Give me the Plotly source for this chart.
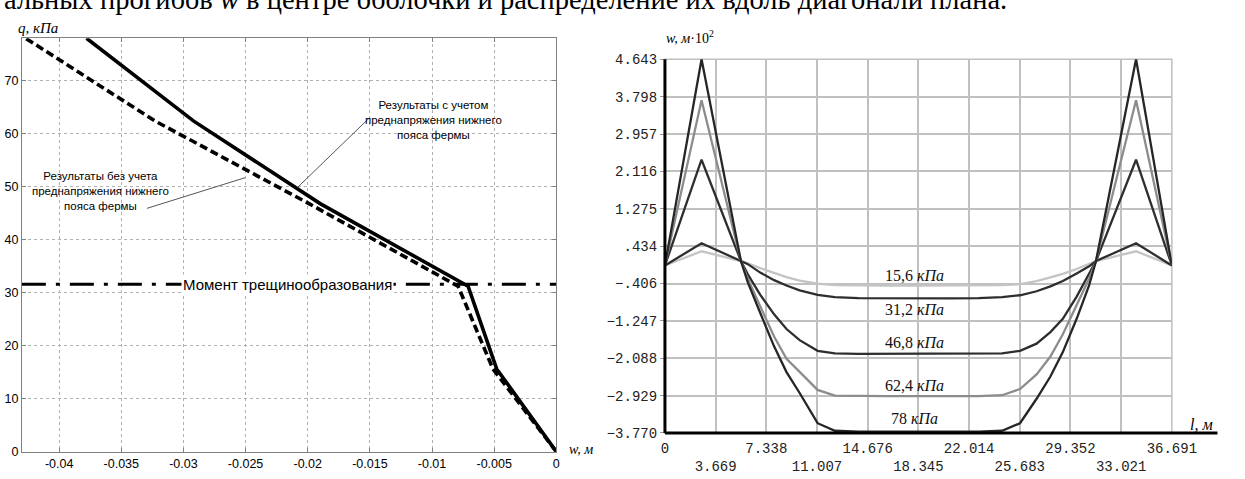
import plotly.graph_objects as go

# ---------------- data: left chart (q vs w) ----------------
q_steps = [0, 15.6, 31.2, 46.8, 62.4, 78]
w_with_prestress = [0, -0.0048, -0.0071, -0.0190, -0.0292, -0.0378]
w_without_prestress = [0, -0.0051, -0.0079, -0.0199, -0.0323, -0.0427]
crack_moment_q = 31.6
left_xticks = [-0.04, -0.035, -0.03, -0.025, -0.02, -0.015, -0.01, -0.005, 0]
left_xticktext = ["-0.04", "-0.035", "-0.03", "-0.025", "-0.02", "-0.015", "-0.01", "-0.005", "0"]
left_yticks = [0, 10, 20, 30, 40, 50, 60, 70]

# ---------------- data: right chart (w along diagonal) ----------------
l_pos = [0, 2.65, 5.5, 6.0, 6.9, 7.9, 8.8, 9.75, 11.05, 12.3, 14.0, 16.0, 18.345,
         20.7, 22.7, 24.4, 25.7, 26.9, 27.9, 28.8, 29.8, 30.7, 31.2, 34.1, 36.691]
w_156 = [0, 0.32, 0.10, 0.05, -0.06, -0.17, -0.26, -0.34, -0.41, -0.44, -0.45, -0.455, -0.455,
         -0.455, -0.45, -0.44, -0.42, -0.35, -0.27, -0.19, -0.08, 0.04, 0.10, 0.32, 0]
w_312 = [0, 0.50, 0.10, 0.03, -0.16, -0.33, -0.45, -0.56, -0.66, -0.71, -0.735, -0.74, -0.74,
         -0.74, -0.735, -0.71, -0.67, -0.58, -0.47, -0.35, -0.18, -0.02, 0.10, 0.50, 0]
w_468 = [0, 2.38, 0.10, -0.20, -0.66, -1.10, -1.43, -1.68, -1.92, -1.98, -1.99, -1.99, -1.99,
         -1.99, -1.99, -1.98, -1.92, -1.76, -1.50, -1.20, -0.70, -0.20, 0.10, 2.38, 0]
w_624 = [0, 3.72, 0.10, -0.30, -0.92, -1.60, -2.10, -2.40, -2.80, -2.93, -2.94, -2.94, -2.94,
         -2.94, -2.94, -2.92, -2.78, -2.45, -2.05, -1.55, -0.90, -0.30, 0.10, 3.72, 0]
w_78 = [0, 4.643, 0.10, -0.38, -1.07, -1.82, -2.40, -2.87, -3.55, -3.72, -3.74, -3.74, -3.74,
        -3.74, -3.74, -3.72, -3.55, -3.00, -2.50, -1.95, -1.20, -0.45, 0.10, 4.643, 0]
series_names = ["15,6 кПа", "31,2 кПа", "46,8 кПа", "62,4 кПа", "78 кПа"]
series_values = [w_156, w_312, w_468, w_624, w_78]
series_colors = ["#c4c4c4", "#2e2e2e", "#2e2e2e", "#8c8c8c", "#262626"]
label_y = [-0.22, -1.0, -1.73, -2.70, -3.45]
label_x = 18.1

right_xticks = [0, 3.669, 7.338, 11.007, 14.676, 18.345, 22.014, 25.683, 29.352, 33.021, 36.691]
right_xticktext = ["0", "<br>3.669", "7.338", "<br>11.007", "14.676", "<br>18.345",
                   "22.014", "<br>25.683", "29.352", "<br>33.021", "36.691"]
right_yticks = [-3.770, -2.929, -2.088, -1.247, -0.406, 0.434, 1.275, 2.116, 2.957, 3.798, 4.643]
right_yticktext = ["\u22123.770", "\u22122.929", "\u22122.088", "\u22121.247", "\u2212.406",
                   ".434", "1.275", "2.116", "2.957", "3.798", "4.643"]

W, H = 1245, 479
def px_x(p):
    return p / W
def px_y(p):
    return 1 - p / H

fig = go.Figure()

# left chart traces
fig.add_trace(go.Scatter(x=w_without_prestress, y=q_steps, mode="lines",
                         line=dict(color="black", width=3.6, dash="8px,4px"),
                         xaxis="x", yaxis="y", showlegend=False))
fig.add_trace(go.Scatter(x=w_with_prestress, y=q_steps, mode="lines",
                         line=dict(color="black", width=3.6),
                         xaxis="x", yaxis="y", showlegend=False))
fig.add_trace(go.Scatter(x=[-0.043, 0], y=[crack_moment_q, crack_moment_q], mode="lines",
                         line=dict(color="black", width=3, dash="24px,10px,4px,10px"),
                         xaxis="x", yaxis="y", showlegend=False))

# right chart traces
for vals, col in zip(series_values, series_colors):
    fig.add_trace(go.Scatter(x=l_pos, y=vals, mode="lines",
                             line=dict(color=col, width=2.3),
                             xaxis="x2", yaxis="y2", showlegend=False))

grid_dot = "#b0b0b0"
fig.update_layout(
    width=W, height=H, autosize=False,
    margin=dict(l=0, r=0, t=0, b=0),
    paper_bgcolor="white", plot_bgcolor="white",
    font=dict(family="Liberation Sans", size=12, color="black"),
    xaxis=dict(domain=[px_x(18.3), px_x(565.5)], range=[-0.043, 0],
               tickvals=left_xticks, ticktext=left_xticktext, tickangle=0,
               showgrid=True, gridcolor=grid_dot, griddash="dot", gridwidth=1,
               showline=True, linecolor="#808080", linewidth=1, mirror="allticks",
               ticks="inside", ticklen=4, tickcolor="#808080",
               zeroline=False, anchor="y", tickfont=dict(size=12.5)),
    yaxis=dict(domain=[px_y(460), px_y(32.3)], range=[0, 78],
               tickvals=left_yticks,
               showgrid=True, gridcolor=grid_dot, griddash="dot", gridwidth=1,
               showline=True, linecolor="#808080", linewidth=1, mirror="allticks",
               ticks="inside", ticklen=4, tickcolor="#808080",
               zeroline=False, anchor="x", tickfont=dict(size=12.5)),
    xaxis2=dict(domain=[px_x(676.7), px_x(1195.7)], range=[0, 36.691],
                tickvals=right_xticks, ticktext=right_xticktext, tickangle=0,
                ticklabelstandoff=5,
                showgrid=True, gridcolor="#c0c0c0", gridwidth=1.5,
                showline=False, zeroline=False, ticks="", anchor="y2",
                tickfont=dict(family="Liberation Mono", size=14, color="#222")),
    yaxis2=dict(domain=[px_y(440.7), px_y(54)], range=[-3.770, 4.643],
                tickvals=right_yticks, ticktext=right_yticktext,
                showgrid=True, gridcolor="#c0c0c0", gridwidth=1.5,
                showline=False, zeroline=False, ticks="outside", ticklen=4,
                tickcolor="#999", anchor="x2",
                tickfont=dict(family="Liberation Mono", size=14, color="#222")),
)

shapes = [
    # right chart frame and bold axes
    dict(type="rect", xref="x2 domain", yref="y2 domain", x0=0, x1=1, y0=0, y1=1,
         line=dict(color="#c0c0c0", width=1.5), layer="below"),
    dict(type="line", xref="x2 domain", yref="y2 domain", x0=0, x1=0, y0=0, y1=1,
         line=dict(color="black", width=3), layer="above"),
    dict(type="line", xref="x2 domain", yref="y2 domain", x0=0, x1=1.09, y0=0, y1=0,
         line=dict(color="black", width=3), layer="above"),
    # pointer lines for left annotations
    dict(type="line", xref="x", yref="y", x0=-0.01507, y0=62.9, x1=-0.02082, y1=49.85,
         line=dict(color="#555", width=1)),
    dict(type="line", xref="x", yref="y", x0=-0.03294, y0=45.9, x1=-0.02502, y1=51.7,
         line=dict(color="#555", width=1)),
]
fig.update_layout(shapes=shapes)

ann = []
# cropped caption at the top (cut by the page edge as in the source)
ann.append(dict(xref="paper", yref="paper", x=0, y=1, xanchor="left", yanchor="middle",
                xshift=-2, yshift=8, showarrow=False,
                text="альных прогибов <i>w</i> в центре оболочки и распределение их вдоль диагонали плана.",
                font=dict(family="Liberation Serif", size=28.5, color="black")))
# left chart texts
ann.append(dict(xref="paper", yref="paper", x=px_x(12), y=px_y(21.7), xanchor="left",
                yanchor="middle", showarrow=False, text="<i>q, кПа</i>",
                font=dict(family="Liberation Serif", size=15)))
ann.append(dict(xref="paper", yref="paper", x=px_x(576), y=px_y(458), xanchor="left",
                yanchor="middle", showarrow=False, text="<i>w, м</i>",
                font=dict(family="Liberation Serif", size=14)))
ann.append(dict(xref="x", yref="y", x=-0.0216, y=crack_moment_q, showarrow=False,
                text="Момент трещинообразования", bgcolor="white", borderpad=1,
                font=dict(family="Liberation Sans", size=15)))
ann.append(dict(xref="x", yref="y", x=-0.0099, y=62.6, showarrow=False, align="center",
                text="Результаты с учетом<br>преднапряжения нижнего<br>пояса фермы",
                font=dict(family="Liberation Sans", size=11.5)))
ann.append(dict(xref="x", yref="y", x=-0.0367, y=49.2, showarrow=False, align="center",
                text="Результаты без учета<br>преднапряжения нижнего<br>пояса фермы",
                font=dict(family="Liberation Sans", size=11.5)))
# right chart texts
ann.append(dict(xref="paper", yref="paper", x=px_x(702), y=px_y(31), xanchor="center",
                yanchor="middle", showarrow=False, text="<i>w, м</i>·10<sup>2</sup>",
                font=dict(family="Liberation Serif", size=14)))
ann.append(dict(xref="paper", yref="paper", x=px_x(1226), y=px_y(432), xanchor="center",
                yanchor="middle", showarrow=False, text="<i>l, м</i>",
                font=dict(family="Liberation Serif", size=16)))
for name, ly in zip(series_names, label_y):
    num, unit = name.split(" ")
    ann.append(dict(xref="x2", yref="y2", x=label_x, y=ly, showarrow=False,
                    text=f"{num} <i>{unit}</i>",
                    font=dict(family="Liberation Serif", size=16, color="#111")))
fig.update_layout(annotations=ann)

fig.write_html("out.html", config={"displayModeBar": False},
               post_script="document.body.style.margin='0';")
